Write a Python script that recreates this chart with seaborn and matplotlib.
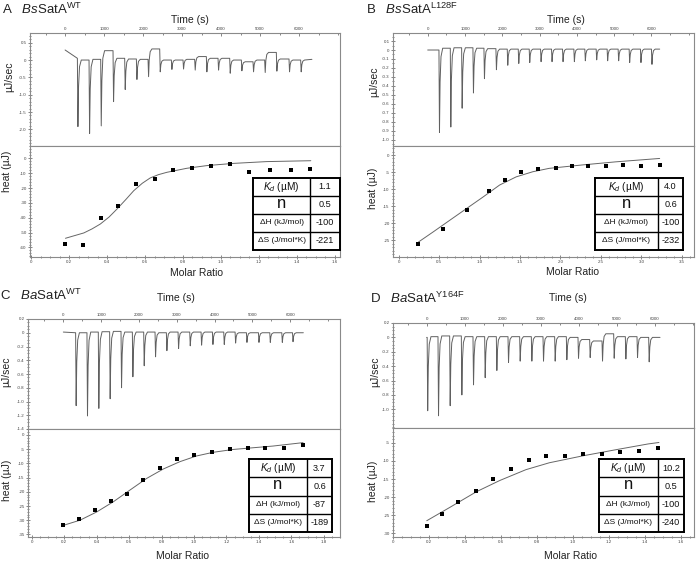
import numpy as np
import pandas as pd
import matplotlib
matplotlib.use("Agg")
import matplotlib.pyplot as plt
import seaborn as sns
from matplotlib.ticker import MultipleLocator, FixedLocator, FuncFormatter

sns.set_theme(style="white")
plt.rcParams['font.family'] = ['Liberation Sans', 'DejaVu Sans']
plt.rcParams['mathtext.fontset'] = 'custom'
plt.rcParams['mathtext.rm'] = 'Liberation Sans'
plt.rcParams['mathtext.it'] = 'Liberation Sans:italic'
plt.rcParams['mathtext.bf'] = 'Liberation Sans:bold'

# ---------------- data ----------------
titles = [r"A   $\it{Bs}$SatA$^{\rm WT}$", r"B   $\it{Bs}$SatA$^{\rm L128F}$",
          r"C   $\it{Ba}$SatA$^{\rm WT}$", r"D   $\it{Ba}$SatA$^{\rm Y164F}$"]

# raw thermograms: injection times (s), peak power (µJ/s), baseline levels (before / after each injection)
injt_A = [325, 624, 923, 1239, 1538, 1838, 2137, 2436, 2735, 3034, 3333, 3632, 3932, 4231, 4530, 4829, 5128, 5427, 5752, 6051]
peak_A = [-1.92, -2.12, -1.90, -1.20, -0.85, -0.56, -0.48, -0.34, -0.27, -0.26, -0.29, -0.34, -0.29, -0.38, -0.31, -0.34, -0.36, -0.32, -0.34, -0.34]
lvl_A = [0.05, 0.0, 0.02, 0.27, 0.05, 0.03, 0.02, 0.32, 0.0, 0.0, 0.02, 0.1, 0.05, 0.05, 0.0, -0.05, 0.0, 0.22, 0.03, 0.0, 0.0]
ends_A = [(0, 0.29), (6330, 0.02)]

injt_B = [312, 616, 920, 1223, 1518, 1839, 2143, 2438, 2732, 3036, 3330, 3625, 3929, 4223, 4527, 4821, 5116, 5411, 5714, 6009]
peak_B = [-0.92, -0.86, -0.65, -0.48, -0.32, -0.22, -0.17, -0.15, -0.14, -0.13, -0.13, -0.13, -0.13, -0.12, -0.11, -0.12, -0.12, -0.14, -0.14, -0.16]
lvl_B = [0.0, 0.02, 0.025, 0.025, 0.02, 0.015, 0.01, 0.01, 0.01, 0.01, 0.01, 0.01, 0.01, 0.01, 0.01, 0.01, 0.01, 0.01, 0.01, 0.01, 0.01]
ends_B = [(0, 0.0), (6220, 0.01)]

injt_C = [335, 635, 935, 1235, 1536, 1836, 2136, 2436, 2736, 3045, 3354, 3654, 3954, 4254, 4554, 4854, 5172, 5472, 5790, 6073]
peak_C = [-1.06, -1.21, -1.10, -0.96, -0.80, -0.64, -0.48, -0.35, -0.26, -0.23, -0.19, -0.18, -0.17, -0.17, -0.15, -0.14, -0.14, -0.14, -0.14, -0.13]
lvl_C = [0.0, 0.0, 0.01, 0.015, 0.02, 0.01, 0.01, 0.01, 0.0, 0.01, 0.01, 0.01, 0.01, 0.01, 0.01, 0.0, 0.0, 0.0, 0.0, 0.0, 0.0]
ends_C = [(0, 0.01), (6350, 0.0)]

injt_D = [22, 307, 614, 921, 1228, 1535, 1842, 2149, 2456, 2763, 3070, 3377, 3684, 3991, 4298, 4623, 4930, 5237, 5544, 5851]
peak_D = [-1.02, -1.09, -0.95, -0.80, -0.66, -0.56, -0.46, -0.35, -0.33, -0.33, -0.33, -0.33, -0.31, -0.29, -0.28, -0.33, -0.29, -0.30, -0.28, -0.34]
lvl_D = [0.0, 0.01, 0.02, 0.02, 0.01, 0.01, 0.01, 0.01, 0.01, 0.01, 0.01, 0.01, 0.01, 0.0, -0.03, -0.05, 0.05, 0.01, 0.01, 0.0, 0.0]
ends_D = [(0, 0.0), (6140, 0.0)]

# integrated heats
mr_A = [0.18, 0.27, 0.365, 0.456, 0.55, 0.65, 0.747, 0.847, 0.95, 1.05, 1.15, 1.26, 1.37, 1.47]
heat_A = [-57.6, -58.3, -40.4, -31.8, -17.3, -13.7, -8.1, -6.7, -5.2, -4.0, -9.2, -8.1, -8.1, -6.9]
fitx_A = [0.18, 0.277, 0.32, 0.364, 0.41, 0.452, 0.50, 0.54, 0.585, 0.627, 0.67, 0.715, 0.82, 0.925, 1.066, 1.241, 1.474]
fity_A = [-53.8, -50.2, -47.5, -44.2, -39.5, -34.1, -27.5, -21.8, -16.8, -13.2, -11.0, -9.4, -6.7, -4.9, -3.4, -2.2, -1.6]

mr_B = [0.246, 0.545, 0.847, 1.117, 1.314, 1.514, 1.719, 1.944, 2.14, 2.345, 2.558, 2.771, 2.996, 3.225]
heat_B = [-26.2, -21.6, -16.2, -10.6, -7.4, -4.9, -4.2, -3.9, -3.2, -3.2, -3.1, -3.0, -3.1, -3.0]
fitx_B = [0.246, 0.43, 0.634, 0.839, 1.044, 1.248, 1.453, 1.658, 1.862, 2.272, 2.681, 3.226]
fity_B = [-25.5, -22.5, -19.1, -15.7, -12.3, -8.8, -6.4, -4.9, -3.9, -2.9, -2.0, -1.0]

mr_C = [0.195, 0.29, 0.39, 0.49, 0.585, 0.687, 0.79, 0.896, 1.0, 1.11, 1.22, 1.33, 1.44, 1.555, 1.67]
heat_C = [-31.8, -29.4, -26.5, -23.3, -20.7, -15.9, -11.5, -8.6, -7.2, -5.9, -5.1, -4.6, -4.7, -4.7, -3.5]
fitx_C = [0.195, 0.297, 0.4, 0.503, 0.605, 0.708, 0.81, 0.913, 1.015, 1.118, 1.241, 1.364, 1.487, 1.672]
fity_C = [-31.8, -30.0, -27.1, -23.5, -19.4, -15.3, -12.0, -9.4, -7.4, -6.1, -5.1, -4.5, -3.9, -2.7]

mr_D = [0.188, 0.275, 0.363, 0.46, 0.557, 0.655, 0.755, 0.853, 0.955, 1.056, 1.161, 1.265, 1.37, 1.475]
heat_D = [-27.9, -24.7, -21.4, -18.4, -15.1, -12.1, -9.8, -8.6, -8.7, -8.1, -8.1, -7.6, -7.2, -6.5]
fitx_D = [0.188, 0.317, 0.464, 0.594, 0.74, 0.87, 1.055, 1.24, 1.42, 1.48]
fity_D = [-26.5, -22.8, -18.5, -15.4, -12.4, -10.5, -8.6, -6.9, -5.3, -4.9]

# fitted parameters tables
row_labels = [r"$K_d$ (µM)", "n", "ΔH (kJ/mol)", "ΔS (J/mol*K)"]
vals_A = ["1.1", "0.5", "-100", "-221"]
vals_B = ["4.0", "0.6", "-100", "-232"]
vals_C = ["3.7", "0.6", "-87", "-189"]
vals_D = ["10.2", "0.5", "-100", "-240"]

# ---------------- figure ----------------
W, H = 696, 561
fig = plt.figure(figsize=(W / 100, H / 100), dpi=100)


def frac(l, t, r, b):
    return [l / W, 1 - b / H, (r - l) / W, (b - t) / H]


def ftxt(x, y, s, **kw):
    fig.text(x / W, 1 - y / H, s, **kw)


def zero_fmt(dec):
    def f(v, _):
        if abs(v) < 1e-9:
            return "0"
        return f"{v:.{dec}f}"
    return FuncFormatter(f)


def thermogram(ends, inj_t, peaks, levels):
    ts = [ends[0][0]]
    ps = [ends[0][1]]
    for i, (t, p) in enumerate(zip(inj_t, peaks)):
        lb, la = levels[i], levels[i + 1]
        ts += [t - 10, t + 4, t + 20, t + 45, t + 90]
        ps += [lb, p, la + 0.4 * (p - la), la + 0.1 * (p - la), la]
    ts.append(ends[1][0])
    ps.append(ends[1][1])
    return pd.DataFrame({"t": ts, "p": ps})


SP = '#8a8a8a'
TXT = '#222222'


def style_axes(ax):
    for s in ax.spines.values():
        s.set_color(SP)
        s.set_linewidth(0.8)
    ax.tick_params(which='both', colors='#555555', labelcolor='#444444',
                   labelsize=3.2, width=0.5)
    ax.tick_params(which='major', length=2.5, pad=1.2)
    ax.tick_params(which='minor', length=1.5)


panels = [
    dict(title=titles[0], tpos=(1.5, 13.5), ends=ends_A, injt=injt_A, peak=peak_A, lvl=lvl_A,
         top=(30, 33, 340, 146), bot=(30, 146, 340, 257),
         txlim=(-900, 7050), tylim=(-2.48, 0.78), tyt=[0.5, 0, -0.5, -1.0, -1.5, -2.0], tymin=0.1, tydec=1,
         mr=mr_A, heat=heat_A, fx=fitx_A, fy=fity_A,
         bxlim=(-0.007, 1.628), bylim=(-66.4, 8.3), bxt=np.arange(0, 1.61, 0.2), bxmin=0.05,
         byt=np.arange(0, -61, -10), bymin=2,
         table=(253, 178, 340, 250, 310), vals=vals_A,
         time_lab=(190, 20), uj=(9, 77), heat_lab=(7, 171), mr_lab=(196, 273)),
    dict(title=titles[1], tpos=(366.5, 13.5), ends=ends_B, injt=injt_B, peak=peak_B, lvl=lvl_B,
         top=(393, 33, 694, 146), bot=(393, 146, 694, 257),
         txlim=(-930, 7140), tylim=(-1.072, 0.19), tyt=list(np.round(np.arange(0.1, -1.01, -0.1), 1)), tymin=0.05, tydec=1,
         mr=mr_B, heat=heat_B, fx=fitx_B, fy=fity_B,
         bxlim=(-0.069, 3.65), bylim=(-29.9, 2.65), bxt=np.arange(0, 3.51, 0.5), bxmin=0.1,
         byt=np.arange(0, -26, -5), bymin=1,
         table=(595, 178, 683, 250, 658), vals=vals_B,
         time_lab=(566, 20), uj=(374, 82), heat_lab=(373, 188), mr_lab=(572, 272)),
    dict(title=titles[2], tpos=(0.5, 300), ends=ends_C, injt=injt_C, peak=peak_C, lvl=lvl_C,
         top=(28, 319, 340, 429), bot=(28, 429, 340, 537),
         txlim=(-935, 7320), tylim=(-1.4, 0.2), tyt=list(np.round(np.arange(0.2, -1.41, -0.2), 1)), tymin=0.05, tydec=1,
         mr=mr_C, heat=heat_C, fx=fitx_C, fy=fity_C,
         bxlim=(-0.023, 1.9), bylim=(-35.9, 2.1), bxt=np.arange(0, 1.81, 0.2), bxmin=0.05,
         byt=np.arange(0, -36, -5), bymin=1,
         table=(249, 459, 332, 532, 307), vals=vals_C,
         time_lab=(176, 298), uj=(6, 372), heat_lab=(7, 480), mr_lab=(183, 556)),
    dict(title=titles[3], tpos=(370, 303), ends=ends_D, injt=injt_D, peak=peak_D, lvl=lvl_D,
         top=(393, 323, 694, 428), bot=(393, 428, 694, 537),
         txlim=(-887, 7034), tylim=(-1.26, 0.2), tyt=list(np.round(np.arange(0.2, -1.01, -0.2), 1)), tymin=0.05, tydec=1,
         mr=mr_D, heat=heat_D, fx=fitx_D, fy=fity_D,
         bxlim=(0.0, 1.675), bylim=(-31.0, -0.9), bxt=np.arange(0, 1.61, 0.2), bxmin=0.05,
         byt=np.arange(-5, -31, -5), bymin=1,
         table=(599, 459, 684, 532, 658), vals=vals_D,
         time_lab=(568, 298), uj=(375, 372), heat_lab=(373, 481), mr_lab=(571, 556)),
]

for P in panels:
    # ---- raw data panel ----
    axt = fig.add_axes(frac(*P['top']))
    df = thermogram(P['ends'], P['injt'], P['peak'], P['lvl'])
    sns.lineplot(data=df, x="t", y="p", ax=axt, sort=False, estimator=None,
                 color='#606060', linewidth=0.7)
    axt.set_xlim(*P['txlim'])
    axt.set_ylim(*P['tylim'])
    axt.xaxis.tick_top()
    axt.xaxis.set_major_locator(FixedLocator(np.arange(0, 6001, 1000)))
    axt.xaxis.set_minor_locator(MultipleLocator(500))
    axt.xaxis.set_major_formatter(zero_fmt(0))
    axt.yaxis.set_major_locator(FixedLocator(P['tyt']))
    axt.yaxis.set_minor_locator(MultipleLocator(P['tymin']))
    axt.yaxis.set_major_formatter(zero_fmt(P['tydec']))
    axt.set_xlabel("")
    axt.set_ylabel("")
    style_axes(axt)
    axt.tick_params(axis='x', which='both', direction='in', top=True, bottom=False)
    axt.tick_params(axis='y', which='both', direction='inout', left=True, right=False)

    # ---- integrated heat panel ----
    axb = fig.add_axes(frac(*P['bot']))
    sns.lineplot(x=P['fx'], y=P['fy'], ax=axb, sort=False, estimator=None,
                 color='#666666', linewidth=0.7)
    sns.scatterplot(x=P['mr'], y=P['heat'], ax=axb, color='black', marker='s',
                    s=7, linewidth=0, zorder=3)
    axb.set_xlim(*P['bxlim'])
    axb.set_ylim(*P['bylim'])
    axb.xaxis.set_major_locator(FixedLocator(P['bxt']))
    axb.xaxis.set_minor_locator(MultipleLocator(P['bxmin']))
    axb.xaxis.set_major_formatter(zero_fmt(1))
    axb.yaxis.set_major_locator(FixedLocator(P['byt']))
    axb.yaxis.set_minor_locator(MultipleLocator(P['bymin']))
    axb.yaxis.set_major_formatter(zero_fmt(0))
    axb.set_xlabel("")
    axb.set_ylabel("")
    style_axes(axb)
    axb.tick_params(axis='both', which='both', direction='inout', bottom=True, left=True,
                    top=False, right=False)

    # ---- table ----
    l, t, r, b, d = P['table']
    tax = fig.add_axes(frac(l, t, r, b))
    tax.set_xlim(0, 1)
    tax.set_ylim(0, 4)
    tax.set_xticks([])
    tax.set_yticks([])
    tax.set_facecolor('white')
    for s in tax.spines.values():
        s.set_linewidth(1.4)
        s.set_color('black')
    dfrac = (d - l) / (r - l)
    tax.axvline(dfrac, color='black', lw=1.0)
    for yy in (1, 2, 3):
        tax.axhline(yy, color='black', lw=1.0)
    sizes = [7.3, 12, 6.0, 6.0]
    for i, (lab, sz, v) in enumerate(zip(row_labels, sizes, P['vals'])):
        yy = 3.5 - i
        tax.text(dfrac / 2, yy + (0.08 if i == 1 else 0), lab, ha='center', va='center',
                 fontsize=sz, color='#111111')
        tax.text((1 + dfrac) / 2, yy, v, ha='center', va='center', fontsize=6.6,
                 color='#111111')

    # ---- texts ----
    ftxt(P['tpos'][0], P['tpos'][1], P['title'], fontsize=9.5, ha='left', va='baseline', color=TXT)
    ftxt(*P['time_lab'], "Time (s)", fontsize=7.5, ha='center', va='center', color=TXT)
    ftxt(*P['uj'], "µJ/sec", fontsize=7.5, ha='center', va='center', rotation=90, color=TXT)
    ftxt(*P['heat_lab'], "heat (µJ)", fontsize=7.5, ha='center', va='center', rotation=90, color=TXT)
    ftxt(*P['mr_lab'], "Molar Ratio", fontsize=7.5, ha='center', va='center', color=TXT)

fig.savefig("out.png", dpi=100, facecolor='white')
